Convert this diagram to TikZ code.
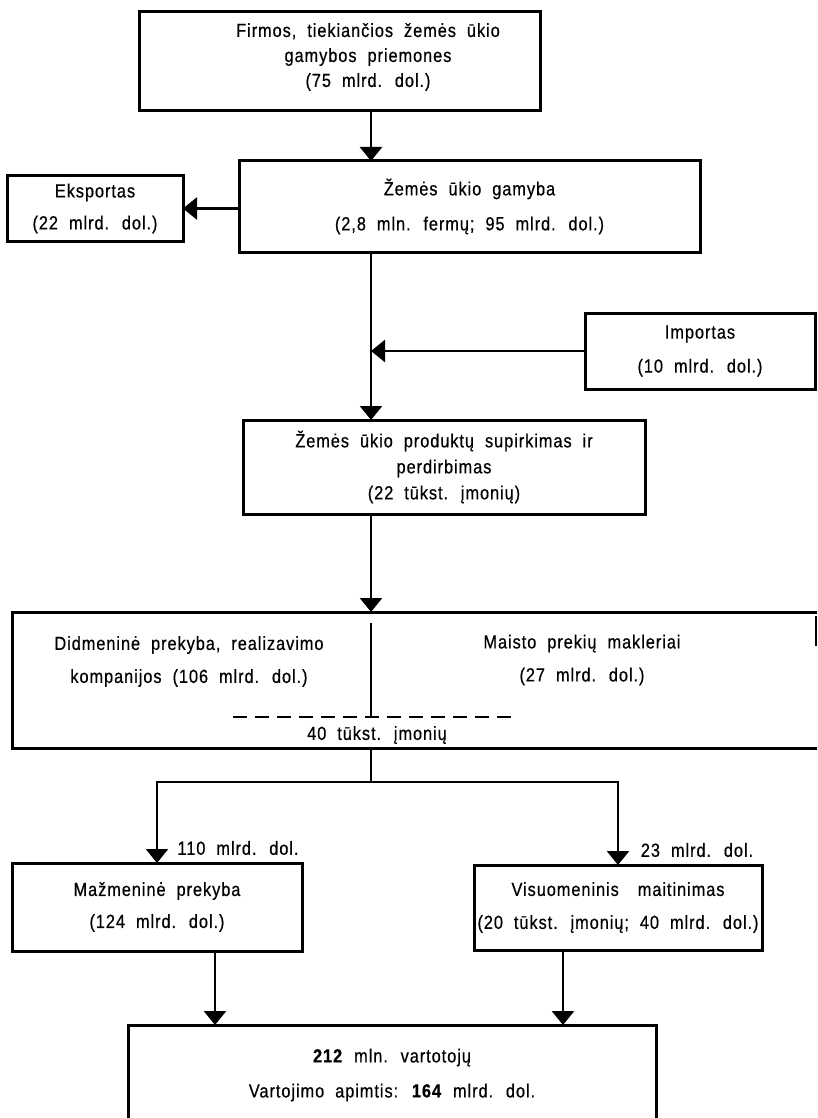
\documentclass[tikz,border=0pt]{standalone}
\usepackage{fontspec}
\setmainfont{Liberation Sans}[FakeStretch=0.86,FakeBold=0.5,WordSpace=2,LetterSpace=5]
\usetikzlibrary{arrows.meta}
\newcommand\dfont[1]{\fontsize{19}{#1}\selectfont}
\begin{document}
\begin{tikzpicture}[x=1pt,y=-1pt,
  box/.style={draw, line width=3pt, align=center, inner sep=0pt, outer sep=0pt},
  frame/.style={inner sep=0pt, outer sep=0pt},
  txt/.style={align=center, inner sep=0pt},
  conn/.style={line width=2.6pt},
  arr/.style={line width=2.6pt, -{Triangle[length=14pt,width=22pt]}},
  dash line/.style={line width=2.6pt, dash pattern=on 14pt off 8pt}]
\useasboundingbox (0,0) rectangle (818,1118);
\fill[white] (0,0) rectangle (818,1118);

\coordinate (ax) at (371,0);

% top box
\node[box, minimum width=401pt, minimum height=99pt] (supply) at (339.5,61.5) {};
\node[txt, font=\dfont{25}] (supplyT) at (368,57) {Firmos, tiekiančios žemės ūkio\\gamybos priemones\\(75 mlrd. dol.)};

% farm production
\node[box, minimum width=461pt, minimum height=91pt, font=\dfont{35}] (prod) at (469.5,206.5) {Žemės ūkio gamyba\\(2,8 mln. fermų; 95 mlrd. dol.)};

% export
\node[box, minimum width=176pt, minimum height=65pt, font=\dfont{32}] (export) at (95,208.5) {Eksportas\\(22 mlrd. dol.)};

% import
\node[box, minimum width=230pt, minimum height=76pt, font=\dfont{34}] (import) at (700,351) {Importas\\(10 mlrd. dol.)};

% processing
\node[box, minimum width=402pt, minimum height=94pt, font=\dfont{26}] (proc) at (444,467) {Žemės ūkio produktų supirkimas ir\\perdirbimas\\(22 tūkst. įmonių)};

% wholesale (open on the right)
\node[frame, minimum width=805pt, minimum height=136pt] (whole) at (414.5,680) {};
\draw[line width=3pt] (whole.north east) -- (whole.north west) -- (whole.south west) -- (whole.south east);
\draw[line width=1.6pt] (whole.north east) ++(-1,4) -- ++(0,30);
\node[txt, font=\dfont{33}] (wholeL) at (189,661.5) {Didmeninė prekyba, realizavimo\\kompanijos (106 mlrd. dol.)};
\node[txt, font=\dfont{33}] (wholeR) at (582,660) {Maisto prekių makleriai\\(27 mlrd. dol.)};
\node[txt, font=\dfont{20}] (wholeN) at (377,735) {40 tūkst. įmonių};
\coordinate (divtop) at (371,623);
\coordinate (dashL) at (233,717);
\coordinate (dashR) at (515,717);
\draw[dash line] (dashL) -- (dashR);
\draw[conn] (divtop) -- (dashL -| divtop);

% retail and catering
\node[box, minimum width=290pt, minimum height=88pt, font=\dfont{32}] (retail) at (157,907) {Mažmeninė prekyba\\(124 mlrd. dol.)};
\node[box, minimum width=288pt, minimum height=85pt, font=\dfont{33}] (cater) at (618,907.5) {Visuomeninis\quad maitinimas\\(20 tūkst. įmonių; 40 mlrd. dol.)};

% consumers (bottom edge beyond the picture)
\node[frame, minimum width=528pt, minimum height=100pt, font=\dfont{35}, align=center] (cons) at (392,1075) {\textbf{212} mln. vartotojų\\Vartojimo apimtis: \textbf{164} mlrd. dol.};
\draw[line width=3pt] (cons.south west) -- (cons.north west) -- (cons.north east) -- (cons.south east);

% connectors
\draw[arr] (supply.south -| ax) -- (prod.north -| ax);
\draw[arr] (prod.west |- export.east) -- (export.east);
\draw[arr] (prod.south -| ax) -- (proc.north -| ax);
\draw[arr] (import.west) -- (import.west -| ax);
\draw[arr] (proc.south -| ax) -- (whole.north -| ax);
\coordinate (br) at (371,782);
\draw[conn] (whole.south -| ax) -- (br);
\draw[arr] (br) -| (retail.north);
\draw[arr] (br) -| (cater.north);
\node[txt, font=\dfont{20}] (l110) at (238,848) {110 mlrd. dol.};
\node[txt, font=\dfont{20}] (l23) at (697,850) {23 mlrd. dol.};
\coordinate (dl) at (215,0);
\coordinate (dr) at (563,0);
\draw[arr] (retail.south -| dl) -- (cons.north -| dl);
\draw[arr] (cater.south -| dr) -- (cons.north -| dr);
\end{tikzpicture}
\end{document}
